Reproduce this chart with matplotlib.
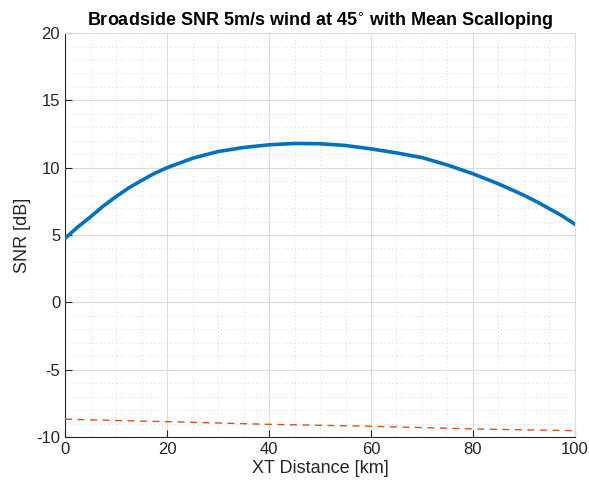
import numpy as np
import matplotlib
matplotlib.use('Agg')
import matplotlib.pyplot as plt
from matplotlib.ticker import MultipleLocator

# values
xtDistance = [0, 2.5, 5, 7.5, 10, 12.5, 15, 17.5, 20, 25, 30, 35, 40, 45, 50, 55, 60,
              65, 70, 75, 80, 85, 90, 92.5, 95, 97.5, 100]
snrBroadside = [4.75, 5.6, 6.35, 7.15, 7.85, 8.5, 9.05, 9.57, 10.0, 10.7, 11.2, 11.5, 11.7, 11.8,
                11.78, 11.65, 11.4, 11.1, 10.75, 10.2, 9.55, 8.8, 7.95, 7.47, 6.95, 6.42, 5.8]
noiseDistance = [0, 20, 40, 60, 80, 100]
snrNoise = [-8.68, -8.86, -9.06, -9.2, -9.4, -9.53]

plt.rcParams['font.family'] = ['Liberation Sans', 'DejaVu Sans']

fig = plt.figure(figsize=(5.89, 4.86), dpi=100)
ax = fig.add_axes([0.1104, 0.1008, 0.8658, 0.8312])

ax.plot(xtDistance, snrBroadside, color='#0072BD', linewidth=2.6, zorder=3,
        solid_joinstyle='round')
ax.plot(noiseDistance, snrNoise, color='#D95319', linewidth=1.0, linestyle=(0, (5, 4)), zorder=3)

ax.set_xlim(0, 100)
ax.set_ylim(-10, 20)
ax.xaxis.set_major_locator(MultipleLocator(20))
ax.xaxis.set_minor_locator(MultipleLocator(5))
ax.set_yticks([-10, -5, 0, 5, 10, 15, 20])
ax.set_yticklabels(['-10', '-5', '0', '5', '10', '15', '20'], fontsize=12)
ax.yaxis.set_minor_locator(MultipleLocator(1))
ax.tick_params(axis='x', labelsize=12)

ax.grid(which='major', color='#dcdcdc', linewidth=0.8)
ax.grid(which='minor', color='#d4d4d4', linewidth=0.7, linestyle=(0, (1, 3)))
ax.tick_params(which='both', direction='in', color='#262626', labelcolor='#262626')
ax.tick_params(which='minor', length=0)
ax.tick_params(which='major', length=5, top=False, right=False)

for side in ['top', 'right']:
    ax.spines[side].set_color('#dcdcdc')
for side in ['left', 'bottom']:
    ax.spines[side].set_color('#262626')

ax.set_xlabel('XT Distance [km]', fontsize=13, color='#262626', labelpad=2)
ax.set_ylabel('SNR [dB]', fontsize=13, color='#262626', labelpad=4)
ax.set_title(r'Broadside SNR 5m/s wind at 45$^{\circ}$ with Mean Scalloping', fontsize=13,
             fontweight='bold', pad=5)

plt.savefig('out.png', dpi=100)
